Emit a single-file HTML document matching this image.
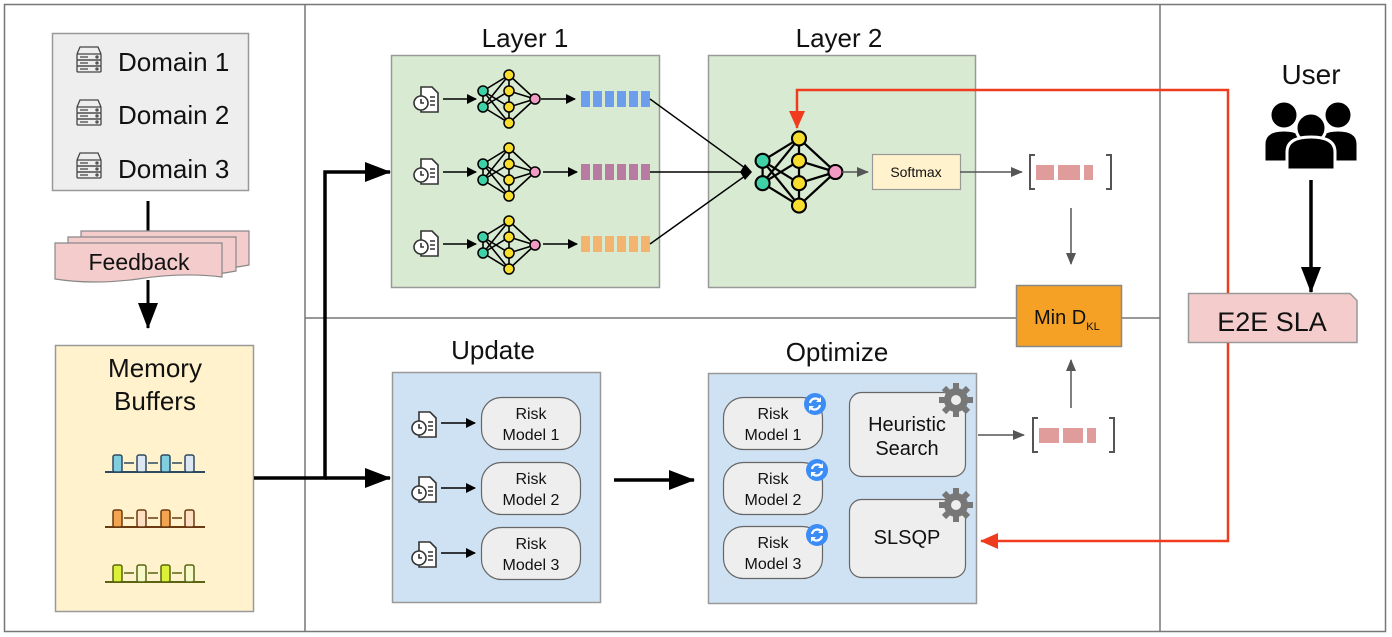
<!DOCTYPE html>
<html><head><meta charset="utf-8"><style>
html,body{margin:0;padding:0;background:#fff}
svg{display:block;font-family:"Liberation Sans",Arial,sans-serif}
</style></head><body>
<svg width="1392" height="637" viewBox="0 0 1392 637" xmlns="http://www.w3.org/2000/svg">
<defs>
<marker id="ab" markerWidth="10" markerHeight="10" refX="9" refY="5" orient="auto" markerUnits="userSpaceOnUse"><path d="M0,0 L10,5 L0,10z" fill="#000"/></marker>
<marker id="abig" markerWidth="26" markerHeight="20" refX="25" refY="10" orient="auto" markerUnits="userSpaceOnUse"><path d="M0,0 L26,10 L0,20z" fill="#000"/></marker>
<marker id="ag" markerWidth="12" markerHeight="12" refX="11" refY="6" orient="auto" markerUnits="userSpaceOnUse"><path d="M0,1 L12,6 L0,11z" fill="#555"/></marker>
<marker id="ar" markerWidth="18" markerHeight="16" refX="17" refY="8" orient="auto" markerUnits="userSpaceOnUse"><path d="M0,0 L18,8 L0,16z" fill="#f03c1e"/></marker>
<g id="nn">
 <g stroke="#000" stroke-width="1.6" fill="none">
  <path d="M-26,-8 L0,-24 M-26,-8 L0,8 M-26,-8 L0,24 M-26,8 L0,-8 M-26,8 L0,24 M-26,8 L0,-24 M-26,-8 L-26,8 M0,-24 L0,24 M0,-24 L26,0 M0,-8 L26,0 M0,8 L26,0 M0,24 L26,0"/>
 </g>
 <g stroke="#000" stroke-width="1.5">
  <circle cx="-26" cy="-8" r="5" fill="#3fd1a6"/><circle cx="-26" cy="8" r="5" fill="#3fd1a6"/>
  <circle cx="0" cy="-24" r="5" fill="#f7dd2e"/><circle cx="0" cy="-8" r="5" fill="#f7dd2e"/>
  <circle cx="0" cy="8" r="5" fill="#f7dd2e"/><circle cx="0" cy="24" r="5" fill="#f7dd2e"/>
  <circle cx="26" cy="0" r="5" fill="#f19bc4"/>
 </g>
</g>
<g id="doc" fill="none" stroke="#333" stroke-width="1.6">
 <path d="M-6,-13 h11 l6,6 v19 h-17 z" fill="#fff"/>
 <path d="M3,-3 h5 M3,1 h5 M3,5 h5"/>
 <circle cx="-6" cy="3" r="7" fill="#fff"/>
 <path d="M-6,-1 v4 h3"/>
</g>
<g id="srv" fill="none" stroke="#444" stroke-width="1.3">
 <path d="M-12,-4 l3,-7 h18 l3,7"/>
 <rect x="-12" y="-4" width="24" height="6" rx="1"/><rect x="-12" y="2" width="24" height="6" rx="1"/><rect x="-12" y="8" width="24" height="6" rx="1"/>
 <path d="M-9,-1 h8 M-9,5 h8 M-9,11 h8"/>
 <circle cx="8" cy="-1" r="1"/><circle cx="8" cy="5" r="1"/><circle cx="8" cy="11" r="1"/>
</g>
<g id="rf">
 <circle r="11" fill="#3b8cf5"/>
 <path d="M-5,-1 a5.5,5.5 0 0 1 10,-2 M5,1 a5.5,5.5 0 0 1 -10,2" stroke="#fff" stroke-width="2.2" fill="none"/>
 <path d="M6,-7 v5 h-5z M-6,7 v-5 h5z" fill="#fff"/>
</g>
<g id="gear" fill="#777">
 <circle r="12"/>
 <g stroke="#777" stroke-width="6"><path d="M0,-17 V17 M-17,0 H17 M-12,-12 L12,12 M12,-12 L-12,12"/></g>
 <circle r="5" fill="#eee"/>
</g>
<g id="brk" stroke="#555" stroke-width="2" fill="none">
 <path d="M6,-17 h-5 v34 h5"/>
 <path d="M77,-17 h5 v34 h-5"/>
</g>
</defs>

<rect x="4.5" y="4.5" width="1381" height="627" fill="#fff" stroke="#777" stroke-width="1.5"/>
<line x1="305" y1="4" x2="305" y2="632" stroke="#777" stroke-width="1.5"/>
<line x1="1160" y1="4" x2="1160" y2="632" stroke="#777" stroke-width="1.5"/>
<line x1="305" y1="318" x2="1160" y2="318" stroke="#777" stroke-width="1.5"/>

<rect x="52.5" y="33.5" width="196" height="157" fill="#eeeeee" stroke="#999" stroke-width="1.5"/>
<use href="#srv" x="89" y="58"/><use href="#srv" x="89" y="111"/><use href="#srv" x="89" y="164"/>
<g font-size="26" fill="#111"><text x="118" y="71">Domain 1</text><text x="118" y="124">Domain 2</text><text x="118" y="178">Domain 3</text></g>
<line x1="148" y1="201" x2="148" y2="232" stroke="#000" stroke-width="3"/>
<g fill="#f4cccc" stroke="#888" stroke-width="1.2">
 <path d="M81,231 h168 v34 q-10,2 -20,3 h-148z"/>
 <path d="M68,237 h168 v34 q-10,2 -20,3 h-148z"/>
 <path d="M55,243 h167 v34 q-40,-5 -84,2 q-45,6 -83,0z"/>
</g>
<text x="139" y="270" font-size="23" text-anchor="middle" fill="#111">Feedback</text>
<line x1="148" y1="280" x2="148" y2="328" stroke="#000" stroke-width="3" marker-end="url(#abig)"/>

<rect x="55.5" y="345.5" width="198" height="266" fill="#fff2cc" stroke="#999" stroke-width="1.5"/>
<text x="155" y="377" font-size="26" text-anchor="middle" fill="#111">Memory</text>
<text x="155" y="410" font-size="26" text-anchor="middle" fill="#111">Buffers</text>
<g stroke-width="1.5">
 <g stroke="#2d4a60"><line x1="105" y1="472" x2="205" y2="472" stroke-width="2"/>
  <rect x="113" y="455" width="9" height="17" rx="2" fill="#80cee0"/><rect x="137" y="455" width="9" height="17" rx="2" fill="#dde8f4"/><rect x="161" y="455" width="9" height="17" rx="2" fill="#80cee0"/><rect x="185" y="455" width="9" height="17" rx="2" fill="#dde8f4"/>
  <path d="M124,463 h10 M148,463 h10 M172,463 h10"/></g>
 <g stroke="#6b3a10"><line x1="105" y1="527" x2="205" y2="527" stroke-width="2"/>
  <rect x="113" y="510" width="9" height="17" rx="2" fill="#f2a450"/><rect x="137" y="510" width="9" height="17" rx="2" fill="#fde0c4"/><rect x="161" y="510" width="9" height="17" rx="2" fill="#f2a450"/><rect x="185" y="510" width="9" height="17" rx="2" fill="#fde0c4"/>
  <path d="M124,518 h10 M148,518 h10 M172,518 h10"/></g>
 <g stroke="#5a6410"><line x1="105" y1="582" x2="205" y2="582" stroke-width="2"/>
  <rect x="113" y="565" width="9" height="17" rx="2" fill="#dcf03a"/><rect x="137" y="565" width="9" height="17" rx="2" fill="#f5fac8"/><rect x="161" y="565" width="9" height="17" rx="2" fill="#dcf03a"/><rect x="185" y="565" width="9" height="17" rx="2" fill="#f5fac8"/>
  <path d="M124,573 h10 M148,573 h10 M172,573 h10"/></g>
</g>

<path d="M254,478 H325 V172 H390" fill="none" stroke="#000" stroke-width="3.5" marker-end="url(#abig)"/>
<line x1="325" y1="478" x2="390" y2="478" stroke="#000" stroke-width="3.5" marker-end="url(#abig)"/>

<text x="525" y="47" font-size="26" text-anchor="middle" fill="#111">Layer 1</text>
<rect x="391.5" y="55.5" width="268" height="232" fill="#d9ead3" stroke="#999" stroke-width="1.5"/>
<text x="839" y="47" font-size="26" text-anchor="middle" fill="#111">Layer 2</text>
<rect x="708.5" y="55.5" width="267" height="232" fill="#d9ead3" stroke="#999" stroke-width="1.5"/>

<g>
 <use href="#doc" x="427" y="100"/><use href="#doc" x="427" y="172"/><use href="#doc" x="427" y="244"/>
 <g stroke="#000" stroke-width="1.6">
  <line x1="443" y1="99" x2="476" y2="99" marker-end="url(#ab)"/><line x1="443" y1="172" x2="476" y2="172" marker-end="url(#ab)"/><line x1="443" y1="244" x2="476" y2="244" marker-end="url(#ab)"/>
  <line x1="541" y1="99" x2="575" y2="99" marker-end="url(#ab)"/><line x1="543" y1="172" x2="577" y2="172" marker-end="url(#ab)"/><line x1="543" y1="244" x2="577" y2="244" marker-end="url(#ab)"/>
 </g>
 <use href="#nn" x="509" y="99"/><use href="#nn" x="509" y="172"/><use href="#nn" x="509" y="245"/>
 <g fill="#6d9eeb"><rect x="581" y="91" width="9" height="16"/><rect x="593" y="91" width="9" height="16"/><rect x="605" y="91" width="9" height="16"/><rect x="617" y="91" width="9" height="16"/><rect x="629" y="91" width="9" height="16"/><rect x="641" y="91" width="9" height="16"/></g>
 <g fill="#b87ba2"><rect x="581" y="164" width="9" height="16"/><rect x="593" y="164" width="9" height="16"/><rect x="605" y="164" width="9" height="16"/><rect x="617" y="164" width="9" height="16"/><rect x="629" y="164" width="9" height="16"/><rect x="641" y="164" width="9" height="16"/></g>
 <g fill="#f2b46e"><rect x="581" y="236" width="9" height="16"/><rect x="593" y="236" width="9" height="16"/><rect x="605" y="236" width="9" height="16"/><rect x="617" y="236" width="9" height="16"/><rect x="629" y="236" width="9" height="16"/><rect x="641" y="236" width="9" height="16"/></g>
 <g stroke="#000" stroke-width="1.4"><line x1="650" y1="99" x2="745" y2="168"/><line x1="650" y1="172" x2="745" y2="172"/><line x1="650" y1="244" x2="745" y2="176"/></g>
 <path d="M740,172 l5,-8 l7,8 l-7,8z" fill="#000"/>
</g>
<g transform="translate(799,172) scale(1.4)"><use href="#nn"/></g>
<line x1="842" y1="172" x2="868" y2="172" stroke="#555" stroke-width="1.5" marker-end="url(#ag)"/>
<rect x="872.5" y="154.5" width="88" height="35" fill="#fff2cc" stroke="#999" stroke-width="1.2"/>
<text x="916" y="177" font-size="14" text-anchor="middle" fill="#111">Softmax</text>
<line x1="960" y1="172" x2="1022" y2="172" stroke="#555" stroke-width="1.5" marker-end="url(#ag)"/>
<use href="#brk" x="1029" y="172"/>
<g fill="#e09b9b"><rect x="1036" y="165" width="18" height="15"/><rect x="1058" y="165" width="22" height="15"/><rect x="1084" y="165" width="9" height="15"/></g>
<line x1="1071" y1="208" x2="1071" y2="264" stroke="#555" stroke-width="1.5" marker-end="url(#ag)"/>

<rect x="1016.5" y="285.5" width="105" height="61" fill="#f5a125" stroke="#888" stroke-width="1.5"/>
<text x="1034" y="324" font-size="20" fill="#111">Min D<tspan font-size="11" dy="6">KL</tspan></text>
<line x1="1071" y1="408" x2="1071" y2="360" stroke="#555" stroke-width="1.5" marker-end="url(#ag)"/>
<use href="#brk" x="1032" y="435"/>
<g fill="#e09b9b"><rect x="1039" y="428" width="20" height="15"/><rect x="1063" y="428" width="20" height="15"/><rect x="1087" y="428" width="9" height="15"/></g>
<line x1="978" y1="435" x2="1024" y2="435" stroke="#555" stroke-width="1.5" marker-end="url(#ag)"/>

<text x="493" y="359" font-size="26" text-anchor="middle" fill="#111">Update</text>
<rect x="392.5" y="372.5" width="208" height="230" fill="#cfe2f3" stroke="#999" stroke-width="1.5"/>
<g>
 <use href="#doc" x="425" y="425"/><use href="#doc" x="425" y="490"/><use href="#doc" x="425" y="555"/>
 <g stroke="#000" stroke-width="1.6"><line x1="441" y1="423" x2="475" y2="423" marker-end="url(#ab)"/><line x1="441" y1="488" x2="475" y2="488" marker-end="url(#ab)"/><line x1="441" y1="553" x2="475" y2="553" marker-end="url(#ab)"/></g>
 <g fill="#eeeeee" stroke="#666" stroke-width="1.2">
  <rect x="481.5" y="397.5" width="99" height="52" rx="20"/><rect x="481.5" y="462.5" width="99" height="52" rx="20"/><rect x="481.5" y="527.5" width="99" height="52" rx="20"/>
 </g>
 <g font-size="16" text-anchor="middle" fill="#111">
  <text x="531" y="419">Risk</text><text x="531" y="440">Model 1</text>
  <text x="531" y="484">Risk</text><text x="531" y="505">Model 2</text>
  <text x="531" y="549">Risk</text><text x="531" y="570">Model 3</text>
 </g>
</g>
<line x1="614" y1="480" x2="694" y2="480" stroke="#000" stroke-width="3.5" marker-end="url(#abig)"/>

<text x="837" y="361" font-size="26" text-anchor="middle" fill="#111">Optimize</text>
<rect x="708.5" y="373.5" width="268" height="230" fill="#cfe2f3" stroke="#999" stroke-width="1.5"/>
<g fill="#eeeeee" stroke="#666" stroke-width="1.2">
 <rect x="723.5" y="397.5" width="99" height="52" rx="20"/><rect x="723.5" y="462.5" width="99" height="52" rx="20"/><rect x="723.5" y="526.5" width="99" height="52" rx="20"/>
 <rect x="849.5" y="392.5" width="116" height="84" rx="12"/><rect x="849.5" y="499.5" width="116" height="78" rx="12"/>
</g>
<g font-size="16" text-anchor="middle" fill="#111">
 <text x="773" y="419">Risk</text><text x="773" y="440">Model 1</text>
 <text x="773" y="484">Risk</text><text x="773" y="505">Model 2</text>
 <text x="773" y="548">Risk</text><text x="773" y="569">Model 3</text>
</g>
<g font-size="20" text-anchor="middle" fill="#111"><text x="907" y="431">Heuristic</text><text x="907" y="455">Search</text><text x="907" y="544">SLSQP</text></g>
<use href="#rf" x="815" y="404"/><use href="#rf" x="817" y="470"/><use href="#rf" x="817" y="535"/>
<use href="#gear" x="956" y="400"/><use href="#gear" x="956" y="505"/>

<text x="1311" y="84" font-size="28" text-anchor="middle" fill="#111">User</text>
<g fill="#000" stroke="#fff" stroke-width="3">
 <circle cx="1284" cy="115" r="14"/><path d="M1264,162 v-18 q0,-14 20,-14 q20,0 20,14 v18z"/>
 <circle cx="1338" cy="115" r="14"/><path d="M1318,162 v-18 q0,-14 20,-14 q20,0 20,14 v18z"/>
 <circle cx="1311" cy="128" r="15"/><path d="M1287,170 v-18 q0,-15 24,-15 q24,0 24,15 v18z"/>
</g>
<line x1="1311" y1="180" x2="1311" y2="292" stroke="#000" stroke-width="3.5" marker-end="url(#abig)"/>
<path d="M1188.5,293.5 H1350 l7,7 V342.5 H1188.5z" fill="#f4cccc" stroke="#999" stroke-width="1.5"/>
<text x="1272" y="331" font-size="27" text-anchor="middle" fill="#111">E2E SLA</text>

<path d="M1228,293 V90 H797 V128" fill="none" stroke="#f03c1e" stroke-width="2.5" marker-end="url(#ar)"/>
<path d="M1228,343 V541 H981" fill="none" stroke="#f03c1e" stroke-width="2.5" marker-end="url(#ar)"/>
</svg>
</body></html>
